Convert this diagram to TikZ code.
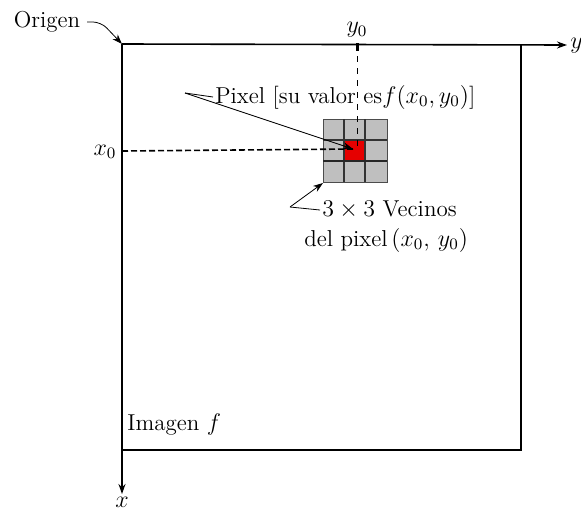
\documentclass[tikz,border=0pt]{standalone}
\usetikzlibrary{arrows.meta}
\begin{document}
\begin{tikzpicture}[x=0.5pt, y=-0.5pt, font=\fontsize{11.5}{13}\selectfont, >={Stealth[length=5pt,width=3.5pt]}]
            \useasboundingbox (0,0) rectangle (581,514);
            \coordinate (o) at (122,44); \coordinate (ye) at (567,45); \coordinate (xe) at (122,494);
            \coordinate (tr) at (521,44); \coordinate (br) at (521,450); \coordinate (bl) at (122,450);
            \coordinate (p) at (353,149); \coordinate (g) at (323,183); \coordinate (pk) at (185,93); \coordinate (vk) at (290,207);
            % Ejes y borde de la imagen
            \draw[thick, ->] (o) -- (ye); \draw[thick, ->] (o) -- (xe); \draw[thick] (tr) -- (br) -- (bl);
            \node[anchor=west, inner sep=0pt] (y) at (570,46) {$y$};
            \node[anchor=north, inner sep=0pt] (x) at (122,497) {$x$};
            \node (orig) at (47,22) {Origen};
            \draw[->, rounded corners=4pt] (orig.east) -- (101,22) -- (o);
            \node (y0) at (357,30) {$y_0$}; \node (x0) at (105,152) {$x_0$};
            \node[anchor=south west, inner sep=1pt] (img) at (125,438) {Imagen $f$};
            % Vecindad 3x3
            \fill[gray!50] (323,119) rectangle (387,182);
            \fill[red!90!black] (344,140) rectangle (365,161);
            \draw[gray!60!black] (323,119) rectangle (387,182);
            \draw[line width=0.9pt, black!80] (344,119) -- (344,182) (365,119) -- (365,182) (323,140) -- (387,140);
            \draw[line width=1.3pt, black!85] (323,161) -- (387,161);
            \draw[dashed] (357,44) -- (357,148);
            \draw[line width=1.5pt] (357,43) -- (357,51);
            \draw[thick, dash pattern=on 3pt off 1.5pt] (122,151) -- (p);
            % Rotulos
            \node[anchor=west, inner sep=1pt] (pix) at (213,97) {Pixel [su valor es$f(x_0, y_0)$]};
            \draw (pix.west) -- (pk); \draw[->] (pk) -- (p);
            \node[anchor=west, inner sep=1pt] (vec1) at (320,210) {$3\times3$ Vecinos};
            \node[anchor=west, inner sep=1pt] (vec2) at (302,240) {del pixel\,$(x_0,\, y_0)$};
            \draw (vec1.west) -- (vk); \draw[->] (vk) -- (g);
        \end{tikzpicture}
\end{document}
